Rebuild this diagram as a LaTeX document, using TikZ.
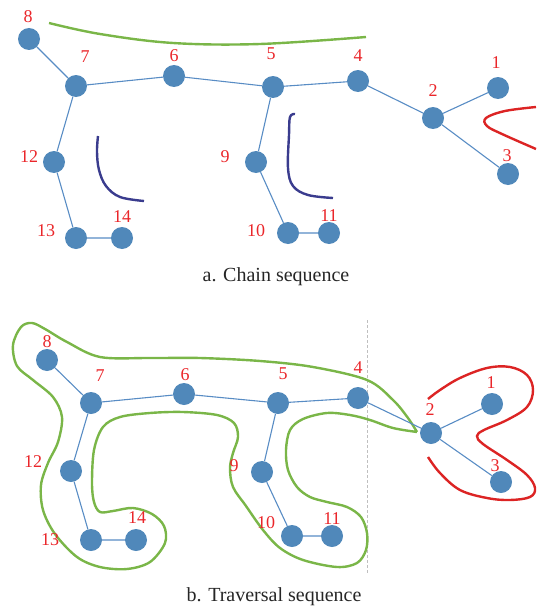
\documentclass[tikz,border=0pt]{standalone}
\usepackage{fontspec}
\setmainfont{Liberation Serif}
\definecolor{nodeblue}{RGB}{80,136,186}
\definecolor{edgeblue}{RGB}{88,140,196}
\definecolor{lblred}{RGB}{234,38,42}
\definecolor{loopgreen}{RGB}{122,182,72}
\definecolor{loopred}{RGB}{220,36,36}
\definecolor{navy}{RGB}{58,60,142}
\tikzset{
  vtx/.style={circle,fill=nodeblue,minimum size=22pt,inner sep=0pt},
  lbl/.style={text=lblred,font=\fontsize{18}{18}\selectfont,inner sep=0pt},
  captxt/.style={text=black!85,font=\fontsize{20}{20}\selectfont,inner sep=0pt},
  lnk/.style={draw=edgeblue,line width=1.1pt},
  gline/.style={draw=loopgreen,line width=2.4pt},
  rline/.style={draw=loopred,line width=2.4pt},
  nline/.style={draw=navy,line width=2.4pt},
}
\begin{document}
\begin{tikzpicture}[x=1pt,y=-1pt]
\useasboundingbox (0,0) rectangle (536,610);
% ---------------- top diagram ----------------
\node[vtx] (a8) at (29,39) {};
\node[vtx] (a7) at (76,86) {};
\node[vtx] (a6) at (174,76) {};
\node[vtx] (a5) at (273,87) {};
\node[vtx] (a4) at (358,81) {};
\node[vtx] (a2) at (433,118) {};
\node[vtx] (a1) at (498,88) {};
\node[vtx] (a3) at (508,174) {};
\node[vtx] (a12) at (54,162) {};
\node[vtx] (a13) at (76,238) {};
\node[vtx] (a14) at (122,238) {};
\node[vtx] (a9) at (256,162) {};
\node[vtx] (a10) at (288,233) {};
\node[vtx] (a11) at (329,233) {};
\draw[lnk] (a8)--(a7) (a7)--(a6) (a6)--(a5) (a5)--(a4) (a4)--(a2) (a2)--(a1) (a2)--(a3)
  (a7)--(a12) (a12)--(a13) (a13)--(a14) (a5)--(a9) (a9)--(a10) (a10)--(a11);
\node[lbl] (la8) at (28,17) {8};
\node[lbl] (la7) at (85,57) {7};
\node[lbl] (la6) at (174,56) {6};
\node[lbl] (la5) at (271,54) {5};
\node[lbl] (la4) at (358,56) {4};
\node[lbl] (la2) at (433,91) {2};
\node[lbl] (la1) at (496,63) {1};
\node[lbl] (la3) at (507,156) {3};
\node[lbl] (la12) at (29,157) {12};
\node[lbl] (la13) at (46,231) {13};
\node[lbl] (la14) at (122,217) {14};
\node[lbl] (la9) at (225,157) {9};
\node[lbl] (la10) at (256,231) {10};
\node[lbl] (la11) at (329,216) {11};
\draw[gline] plot[smooth,tension=0.6] coordinates {(49,23) (100,34) (173,43) (260,44) (366,37)};
\draw[nline] plot[smooth,tension=0.6] coordinates {(98,136) (97,152) (99,170) (106,186) (120,197) (144,201)};
\draw[nline] plot[smooth,tension=0.6] coordinates {(295,114) (290,117) (289,135) (288,168) (293,186) (308,195) (333,198)};
\draw[rline] plot[smooth,tension=0.6] coordinates {(536,107) (505,111) (486,118) (487,126) (502,134) (536,149)};
\node[captxt] (capa) at (276,277) {a. Chain sequence};
% ---------------- bottom diagram ----------------
\draw[draw=black!25,line width=0.8pt,dash pattern=on 3pt off 2pt] (367,320) -- (367,573);
\draw[gline] plot[smooth,tension=0.55] coordinates {
 (417,432) (408,418) (393,400) (367,380) (313,367) (260,361) (200,358) (150,358) (100,357)
 (67,342) (45,329) (32,323) (21,327) (13,345) (17,366) (33,380) (53,397) (62,417) (58,442)
 (48,463) (41,485) (43,510) (55,534) (77,557) (100,567) (127,569) (150,562) (165,543)
 (164,526) (152,514) (133,508) (113,511) (100,512) (94,502) (92,483) (94,450) (103,427)
 (120,417) (150,413) (183,412) (217,415) (234,423) (238,437) (233,453) (230,468) (233,487)
 (246,506) (263,530) (280,548) (303,560) (337,567) (357,563) (366,550) (367,533) (361,517)
 (347,507) (327,502) (310,497) (297,487) (288,470) (286,450) (290,430) (303,419) (327,413)
 (350,415) (370,420) (393,428) (417,432)};
\draw[rline] plot[smooth,tension=0.6] coordinates {
 (428,399) (440,390) (460,378) (487,368) (510,367) (527,375) (533,390) (527,407) (507,420)
 (484,430) (477,436) (483,444) (507,460) (527,475) (535,488) (530,497) (510,500) (487,498)
 (460,490) (440,473) (428,457)};
\node[vtx] (b8) at (47,360) {};
\node[vtx] (b7) at (91,403) {};
\node[vtx] (b6) at (184,394) {};
\node[vtx] (b5) at (278,403) {};
\node[vtx] (b4) at (358,398) {};
\node[vtx] (b2) at (431,433) {};
\node[vtx] (b1) at (492,404) {};
\node[vtx] (b3) at (501,482) {};
\node[vtx] (b12) at (71,471) {};
\node[vtx] (b13) at (91,540) {};
\node[vtx] (b14) at (136,540) {};
\node[vtx] (b9) at (262,472) {};
\node[vtx] (b10) at (292,536) {};
\node[vtx] (b11) at (332,536) {};
\draw[lnk] (b8)--(b7) (b7)--(b6) (b6)--(b5) (b5)--(b4) (b4)--(b2) (b2)--(b1) (b2)--(b3)
  (b7)--(b12) (b12)--(b13) (b13)--(b14) (b5)--(b9) (b9)--(b10) (b10)--(b11);
\node[lbl] (lb8) at (47,342) {8};
\node[lbl] (lb7) at (100,376) {7};
\node[lbl] (lb6) at (185,375) {6};
\node[lbl] (lb5) at (283,374) {5};
\node[lbl] (lb4) at (358,368) {4};
\node[lbl] (lb2) at (430,410) {2};
\node[lbl] (lb1) at (491,383) {1};
\node[lbl] (lb3) at (495,466) {3};
\node[lbl] (lb12) at (33,462) {12};
\node[lbl] (lb13) at (50,540) {13};
\node[lbl] (lb14) at (137,518) {14};
\node[lbl] (lb9) at (234,466) {9};
\node[lbl] (lb10) at (266,523) {10};
\node[lbl] (lb11) at (332,519) {11};
\node[captxt] (capb) at (274,597) {b. Traversal sequence};
\end{tikzpicture}
\end{document}
